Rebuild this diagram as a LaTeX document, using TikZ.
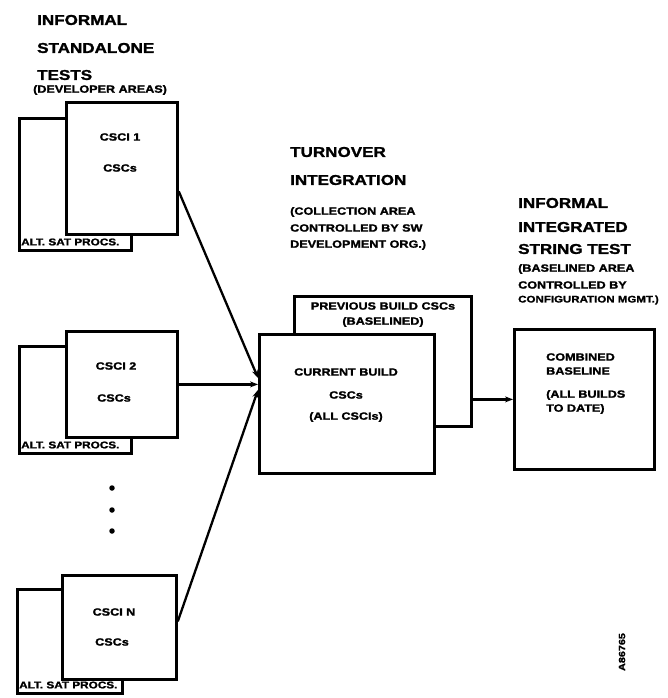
\documentclass[tikz,border=0pt]{standalone}
\usepackage{fontspec}
\setmainfont{Liberation Sans}[FakeStretch=1.2, BoldFeatures={FakeBold=1.6}]
\usetikzlibrary{arrows.meta}
\tikzset{
  box/.style={draw, line width=2.8pt, fill=white, inner sep=0pt, anchor=north west},
  big/.style={font=\bfseries\fontsize{14.2}{16}\selectfont, inner sep=0pt, anchor=west},
  small/.style={font=\bfseries\fontsize{10.5}{12}\selectfont, inner sep=0pt},
  tiny/.style={font=\bfseries\fontsize{9.8}{10}\selectfont, inner sep=0pt, anchor=west},
  conn/.style={line width=2.3pt, -{Stealth[length=8pt,width=6pt]}},
  dot/.style={circle, fill, inner sep=0pt, minimum size=5.5pt}
}
\begin{document}
\begin{tikzpicture}[x=1pt,y=-1pt]
\useasboundingbox (0,0) rectangle (668,698);
% headers left
\node[big] (h1) at (37,20) {INFORMAL};
\node[big] (h2) at (37,48) {STANDALONE};
\node[big] (h3) at (37,75) {TESTS};
\node[small, anchor=west] (h4) at (33,90) {(DEVELOPER AREAS)};
% CSCI 1
\node[box, minimum width=112pt, minimum height=132pt] (b1) at (18,117) {};
\node[box, minimum width=111pt, minimum height=132pt] (f1) at (65,101) {};
\node[tiny] (a1) at (21,242) {ALT. SAT PROCS.};
\node[small] (t1) at (120,137) {CSCI 1};
\node[small] (s1) at (120,168) {CSCs};
% CSCI 2
\node[box, minimum width=112pt, minimum height=107pt] (b2) at (18,345) {};
\node[box, minimum width=111pt, minimum height=106pt] (f2) at (65,330) {};
\node[tiny] (a2) at (21,445) {ALT. SAT PROCS.};
\node[small] (t2) at (116,366) {CSCI 2};
\node[small] (s2) at (114,398) {CSCs};
% dots
\node[dot] (d1) at (112,488) {};
\node[dot] (d2) at (112,510) {};
\node[dot] (d3) at (112,531) {};
% CSCI N
\node[box, minimum width=105pt, minimum height=104pt] (bN) at (16,588) {};
\node[box, minimum width=114pt, minimum height=104pt] (fN) at (61,574) {};
\node[tiny] (aN) at (19,685) {ALT. SAT PROCS.};
\node[small] (tN) at (114,612) {CSCI N};
\node[small] (sN) at (112,642) {CSCs};
% turnover integration
\node[big] (m1) at (290,152) {TURNOVER};
\node[big] (m2) at (290,180) {INTEGRATION};
\node[small, anchor=west] (m3) at (290,212) {(COLLECTION AREA};
\node[small, anchor=west] (m4) at (290,228) {CONTROLLED BY SW};
\node[small, anchor=west] (m5) at (290,245) {DEVELOPMENT ORG.)};
\node[box, minimum width=177pt, minimum height=130pt] (prev) at (293,295) {};
\node[small] (p1) at (383,306) {PREVIOUS BUILD CSCs};
\node[small] (p2) at (383,322) {(BASELINED)};
\node[box, minimum width=175pt, minimum height=139pt] (cur) at (258,333) {};
\node[small] (c1) at (346,372) {CURRENT BUILD};
\node[small] (c2) at (346,395) {CSCs};
\node[small] (c3) at (346,417) {(ALL CSCIs)};
% informal integrated string test
\node[big] (r1) at (518,203) {INFORMAL};
\node[big] (r2) at (518,227) {INTEGRATED};
\node[big] (r3) at (518,249) {STRING TEST};
\node[small, anchor=west] (r4) at (518,269) {(BASELINED AREA};
\node[small, anchor=west] (r5) at (518,285) {CONTROLLED BY};
\node[small, anchor=west, font=\bfseries\fontsize{9.6}{11}\selectfont] (r6) at (518,300) {CONFIGURATION MGMT.)};
\node[box, minimum width=140pt, minimum height=140pt] (comb) at (513,328) {};
\node[small, anchor=west] (k1) at (546,357) {COMBINED};
\node[small, anchor=west] (k2) at (546,371) {BASELINE};
\node[small, anchor=west] (k3) at (546,395) {(ALL BUILDS};
\node[small, anchor=west] (k4) at (546,409) {TO DATE)};
% id
\node[font=\bfseries\fontsize{9}{10}\selectfont, rotate=90, inner sep=0pt] (id) at (622,652) {A86765};
% connectors
\draw[conn] ([yshift=-23pt]f1.east) -- ([yshift=26pt]cur.west);
\draw[conn] (f2.east) -- (cur.west |- f2.east);
\draw[conn] ([yshift=6pt]fN.east) -- ([yshift=14pt]cur.west);
\draw[conn] (prev.east |- comb.west) -- (comb.west);
\end{tikzpicture}
\end{document}
